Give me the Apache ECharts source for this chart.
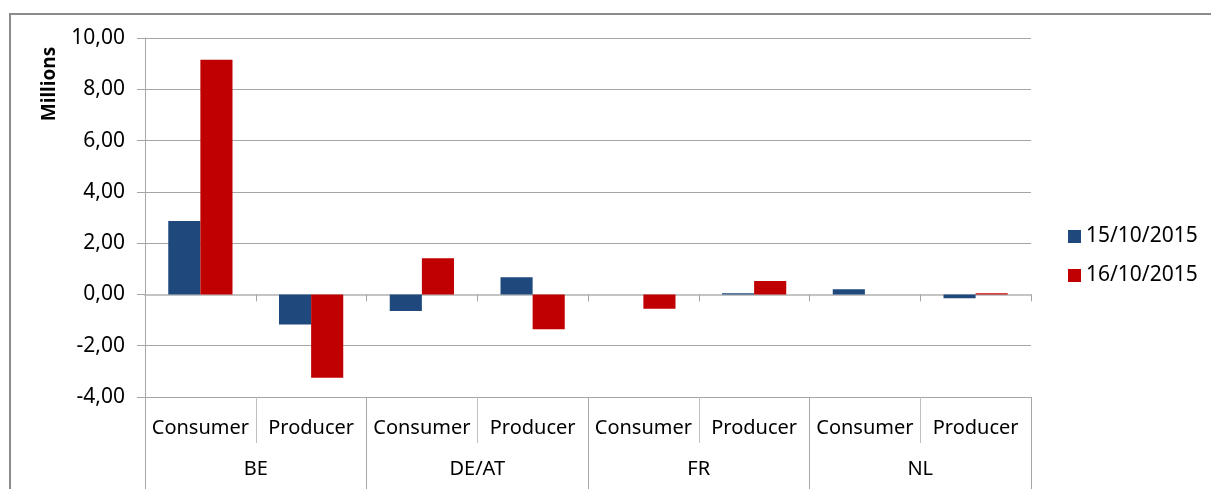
<!DOCTYPE html>
<html>
<head>
<meta charset="utf-8">
<script src="https://cdn.jsdelivr.net/npm/echarts@6/dist/echarts.min.js"></script>
<style>
  html, body { margin: 0; padding: 0; background: #fff; }
</style>
</head>
<body>
<div id="main" style="width: 1211px; height: 489px;"></div>
<script>
// data (millions)
const subCategories = ["Consumer", "Producer", "Consumer", "Producer", "Consumer", "Producer", "Consumer", "Producer"];
const groups = ["BE", "DE/AT", "FR", "NL"];
const seriesNames = ["15/10/2015", "16/10/2015"];
const day1 = [2.86, -1.17, -0.65, 0.67, 0, 0.05, 0.2, -0.15];
const day2 = [9.15, -3.25, 1.41, -1.36, -0.56, 0.52, 0, 0.05];
const yTicks = { min: -4, max: 10, step: 2 };

const font = "'Noto Sans', sans-serif";
const myChart = echarts.init(document.getElementById("main"));

myChart.setOption({
  animation: false,
  textStyle: { fontFamily: font },
  grid: { left: 145, right: 180, top: 38, bottom: 92, containLabel: false },
  legend: {
    orient: "vertical",
    left: 1063,
    top: 221,
    icon: "rect",
    itemWidth: 13,
    itemHeight: 13,
    itemGap: 18,
    data: seriesNames,
    textStyle: { fontSize: 21, color: "#000", fontFamily: font, lineHeight: 21 },
  },
  graphic: [
    {
      type: "rect",
      shape: { x: 10, y: 14, width: 1220, height: 500 },
      style: { fill: "none", stroke: "#8c8c8c", lineWidth: 2 },
      silent: true,
    },
    {
      type: "text",
      x: 50,
      y: 84,
      rotation: Math.PI / 2,
      style: {
        text: "Millions",
        font: "bold 19px " + font,
        fill: "#000",
        align: "center",
        verticalAlign: "middle",
      },
    },
  ],
  xAxis: [
    {
      // axis line at zero
      type: "category",
      data: subCategories,
      axisLine: { show: true, onZero: true, lineStyle: { color: "#c4c4c4", width: 2 } },
      axisTick: { show: true, interval: 0, length: 7, lineStyle: { color: "#a6a6a6" } },
      axisLabel: { show: false },
    },
    {
      type: "category",
      data: subCategories,
      position: "bottom",
      axisLine: { show: false, onZero: false },
      axisTick: { show: true, interval: 0, length: 46, lineStyle: { color: "#bfbfbf" } },
      axisLabel: { interval: 0, fontSize: 20, color: "#000", margin: 21, fontFamily: font },
    },
    {
      type: "category",
      data: groups,
      position: "bottom",
      axisLine: { show: false, onZero: false },
      axisTick: { show: true, interval: 0, length: 92, lineStyle: { color: "#a6a6a6" } },
      axisLabel: { interval: 0, fontSize: 20, color: "#000", margin: 62, fontFamily: font },
    },
  ],
  yAxis: {
    type: "value",
    min: yTicks.min,
    max: yTicks.max,
    interval: yTicks.step,
    axisLine: { show: true, lineStyle: { color: "#a6a6a6" } },
    axisTick: { show: true, length: 8, lineStyle: { color: "#a6a6a6" } },
    splitLine: { show: true, lineStyle: { color: "#a6a6a6" } },
    axisLabel: {
      fontSize: 21,
      color: "#000",
      margin: 20,
      fontFamily: font,
      formatter: (v) => v.toFixed(2).replace(".", ","),
    },
  },
  series: [
    {
      name: seriesNames[0],
      type: "bar",
      data: day1,
      barGap: "0%",
      barCategoryGap: "42%",
      itemStyle: { color: "#1f497d" },
    },
    {
      name: seriesNames[1],
      type: "bar",
      data: day2,
      barGap: "0%",
      barCategoryGap: "42%",
      itemStyle: { color: "#c00000" },
    },
  ],
});

window.onresize = function () {
  myChart.resize();
};
</script>
</body>
</html>
